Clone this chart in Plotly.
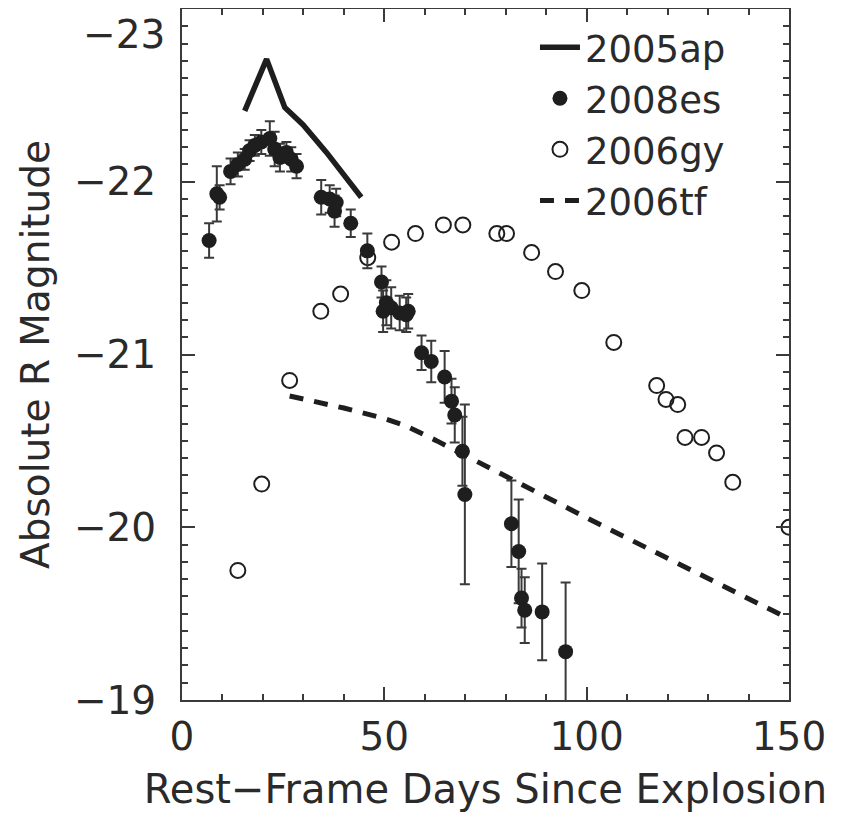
import plotly.graph_objects as go

# 2008es (filled circles with error bars)
es_day = [6.7, 8.6, 9.3, 12.0, 13.8, 15.5, 16.7, 18.0, 19.6, 21.7, 22.9, 24.2, 25.8, 27.0, 28.3,
          34.4, 36.5, 37.7, 38.1, 41.7, 45.8, 49.3, 49.7, 50.5, 51.7, 53.8, 55.4, 55.9,
          59.2, 61.6, 64.9, 66.6, 67.4, 69.3, 69.9, 81.4, 83.2, 83.9, 84.7, 89.0, 94.8]
es_mag = [-21.66, -21.93, -21.91, -22.06, -22.10, -22.13, -22.18, -22.21, -22.23, -22.25, -22.19, -22.14, -22.17, -22.13, -22.09,
          -21.91, -21.90, -21.83, -21.88, -21.76, -21.60, -21.42, -21.25, -21.30, -21.27, -21.24, -21.23, -21.25,
          -21.01, -20.96, -20.87, -20.73, -20.65, -20.44, -20.19, -20.02, -19.86, -19.59, -19.52, -19.51, -19.28]
es_err = [0.10, 0.16, 0.07, 0.075, 0.07, 0.06, 0.06, 0.06, 0.07, 0.10, 0.10, 0.08, 0.06, 0.07, 0.07,
          0.10, 0.08, 0.09, 0.08, 0.08, 0.10, 0.09, 0.12, 0.13, 0.12, 0.10, 0.10, 0.10,
          0.10, 0.12, 0.15, 0.13, 0.16, 0.20, 0.52, 0.25, 0.30, 0.17, 0.19, 0.28, 0.40]

# 2006gy (open circles)
gy_day = [13.8, 19.7, 26.6, 34.3, 39.2, 45.9, 51.8, 57.7, 64.6, 69.4, 77.8, 80.2, 86.4, 92.3,
          98.8, 106.7, 117.3, 119.6, 122.5, 124.3, 128.4, 132.1, 136.1, 150.0]
gy_mag = [-19.75, -20.25, -20.85, -21.25, -21.35, -21.56, -21.65, -21.70, -21.75, -21.75, -21.70, -21.70, -21.59, -21.48,
          -21.37, -21.07, -20.82, -20.74, -20.71, -20.52, -20.52, -20.43, -20.26, -20.00]

# 2005ap (solid line)
ap_day = [15.5, 20.9, 25.4, 29.9, 35.7, 44.3]
ap_mag = [-22.41, -22.71, -22.43, -22.33, -22.17, -21.91]

# 2006tf (dashed line)
tf_day = [26.6, 40.0, 50.0, 55.0, 63.0, 75.4, 88.2, 101.2, 150.0]
tf_mag = [-20.76, -20.69, -20.63, -20.59, -20.50, -20.35, -20.19, -20.04, -19.47]

# axis ticks
x_ticks = [0, 50, 100, 150]
y_ticks = [-23, -22, -21, -20, -19]

FONT = "DejaVu Sans"
INK = "#1e1e1e"
AX = "#3a3a3a"
TXT = "#2a2a2a"

def mag_label(v):
    return "\u2212" + str(abs(v)) if v < 0 else str(v)

fig = go.Figure()

fig.add_trace(go.Scatter(
    x=gy_day, y=gy_mag, mode="markers", name="2006gy", legendrank=3,
    marker=dict(symbol="circle-open", size=15, color=INK, line=dict(width=2, color=INK)),
))
fig.add_trace(go.Scatter(
    x=tf_day, y=tf_mag, mode="lines", name="2006tf", legendrank=4,
    line=dict(color=INK, width=5, dash="14px,11px"),
))
fig.add_trace(go.Scatter(
    x=ap_day, y=ap_mag, mode="lines", name="2005ap", legendrank=1,
    line=dict(color=INK, width=5.5),
))
fig.add_trace(go.Scatter(
    x=es_day, y=es_mag, mode="markers", name="2008es", legendrank=2,
    marker=dict(symbol="circle", size=15, color=INK),
    error_y=dict(type="data", array=es_err, visible=True, color=AX, thickness=2, width=5),
))

axis_common = dict(
    showline=True, linecolor=AX, linewidth=2, mirror="ticks",
    ticks="inside", ticklen=13, tickwidth=2, tickcolor=AX,
    showgrid=False, zeroline=False, automargin=False,
    tickfont=dict(family=FONT, size=39, color=TXT),
)

fig.update_xaxes(
    range=[0, 150], tickmode="array", tickvals=x_ticks, ticktext=[str(v) for v in x_ticks],
    minor=dict(dtick=10, tick0=0, ticks="inside", ticklen=6, tickwidth=2, tickcolor=AX),
    ticklabelstandoff=1,
    title=dict(text="Rest\u2212Frame Days Since Explosion", font=dict(family=FONT, size=40, color=TXT), standoff=17),
    **axis_common,
)
# the top label (-23) would be hidden past the page edge, so it is written as a text note below
fig.update_yaxes(
    range=[-19, -23], tickmode="array", tickvals=y_ticks,
    ticktext=["" if v == y_ticks[0] else mag_label(v) for v in y_ticks],
    minor=dict(dtick=0.1, tick0=-23, ticks="inside", ticklen=6, tickwidth=2, tickcolor=AX),
    ticklabelstandoff=16,
    title=dict(text="Absolute R Magnitude", font=dict(family=FONT, size=39, color=TXT), standoff=12),
    **axis_common,
)

fig.add_annotation(
    x=0, xref="paper", y=y_ticks[0], yref="y",
    text=mag_label(y_ticks[0]), showarrow=False,
    xanchor="right", yanchor="top", xshift=-15, yshift=-1,
    font=dict(family=FONT, size=39, color=TXT),
)

fig.update_layout(
    width=840, height=810,
    margin=dict(l=174, r=59, t=1, b=118),
    paper_bgcolor="white", plot_bgcolor="white",
    showlegend=True,
    legend=dict(
        x=0.5815, y=0.989, xanchor="left", yanchor="top",
        font=dict(family=FONT, size=37, color=TXT),
        bgcolor="rgba(0,0,0,0)", borderwidth=0,
        itemwidth=40,
    ),
)

fig.write_html("out.html")
